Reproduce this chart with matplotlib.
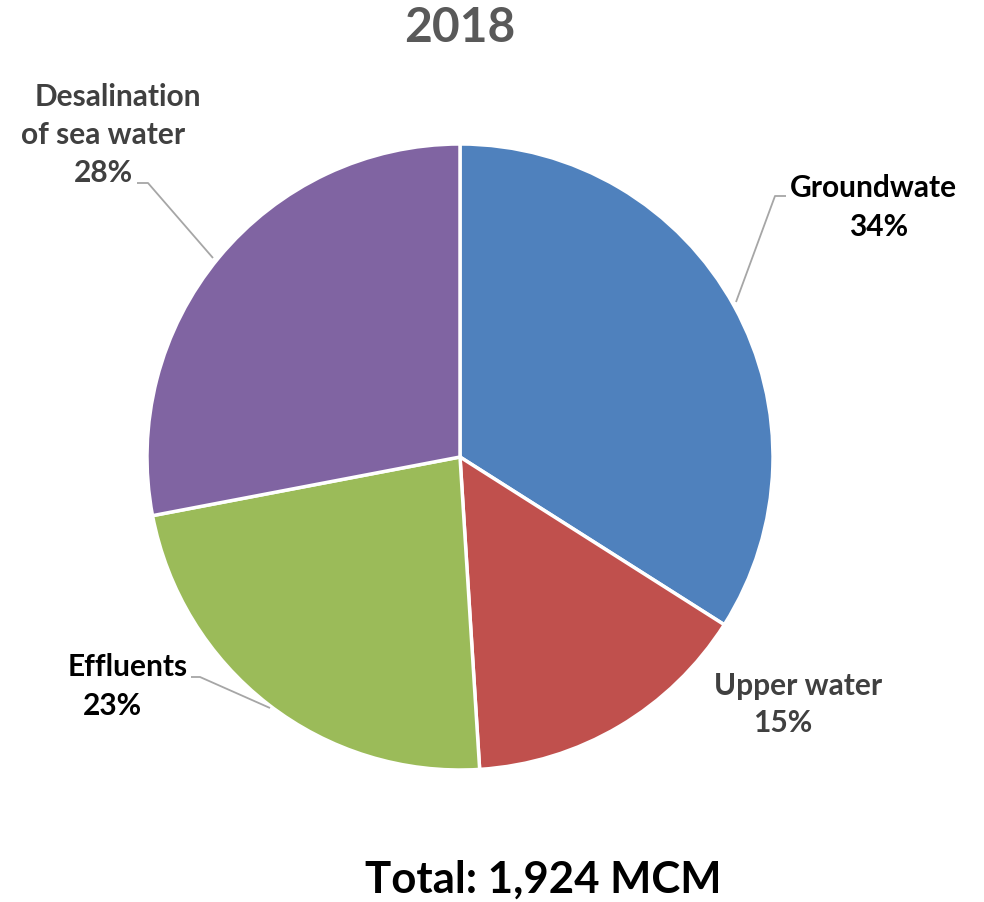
import matplotlib
matplotlib.use("Agg")
import matplotlib.pyplot as plt

categories = ["Groundwate", "Upper water", "Effluents", "Desalination\nof sea water"]
values = [34, 15, 23, 28]
colors = ["#4F81BD", "#C0504D", "#9BBB59", "#8064A2"]
title = "2018"
total_text = "Total: 1,924 MCM"

W, H = 984, 902
fig = plt.figure(figsize=(W / 100, H / 100), dpi=100)
FONT = ["Lato", "DejaVu Sans"]

cx, cy, R = 460, 457, 313
ax = fig.add_axes([(cx - R) / W, (H - cy - R) / H, 2 * R / W, 2 * R / H])
ax.pie(values, colors=colors, startangle=90, counterclock=False, radius=1,
       wedgeprops=dict(edgecolor="white", linewidth=2.5))
ax.set_xlim(-1, 1)
ax.set_ylim(-1, 1)
ax.set_aspect("equal")
ax.axis("off")

def P(x, y):
    return ((x - cx) / R, (cy - y) / R)

def ftxt(x, y, s, size, color, **kw):
    fig.text(x / W, 1 - y / H, s, ha="center", va="center", fontsize=size,
             fontweight="bold", color=color, family=FONT, **kw)

pcts = [f"{v / sum(values) * 100:.0f}%" for v in values]

# title and total
ftxt(460, 28, title, 34.5, "#595959")
ftxt(543, 880, total_text, 31.5, "#000000")

LS = 21.5
gray = "#404040"
# Groundwater
ftxt(873, 188, categories[0], LS, "#000000")
ftxt(879, 227, pcts[0], LS, "#000000")
# Upper water
ftxt(798, 686, categories[1], LS, gray)
ftxt(783, 723, pcts[1], LS, gray)
# Effluents
ftxt(128, 667, categories[2], LS, "#000000")
ftxt(112, 706, pcts[2], LS, "#000000")
# Desalination
l1, l2 = categories[3].split("\n")
ftxt(118, 97, l1, LS, gray)
ftxt(103, 135, l2, LS, gray)
ftxt(103, 173, pcts[3], LS, gray)

lc = "#A6A6A6"
def leader(pts):
    xs, ys = zip(*[P(x, y) for x, y in pts])
    ax.plot(xs, ys, color=lc, lw=1.3, clip_on=False, solid_capstyle="butt")

leader([(786, 196), (775, 196), (736, 302)])
leader([(137, 183), (148, 183), (213, 258)])
leader([(191, 677), (200, 677), (270, 708)])

fig.savefig("out.png", dpi=100, facecolor="white")
